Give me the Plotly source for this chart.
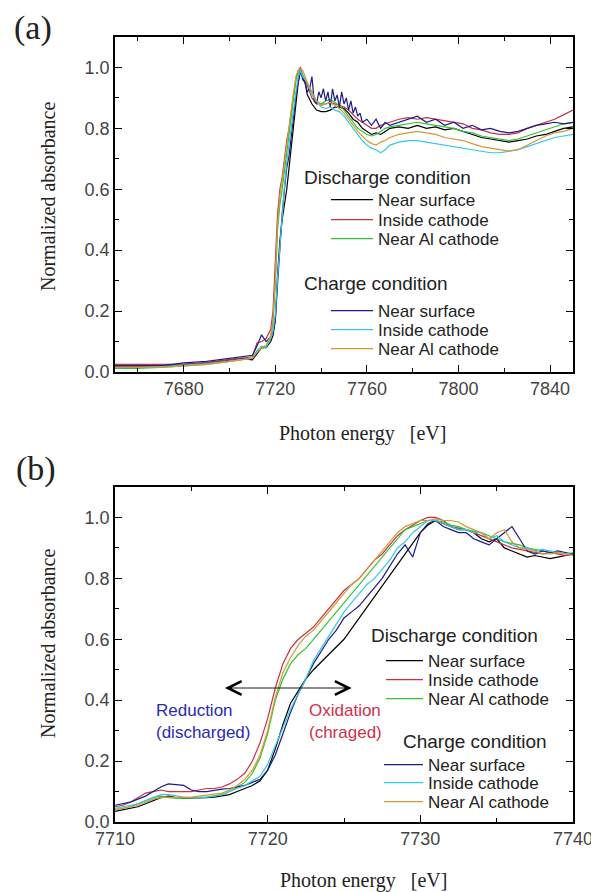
import plotly.graph_objects as go

# ---- panel (a): wide energy range ----
EA = [7650, 7660, 7670, 7680, 7690, 7700, 7705, 7710, 7712, 7714, 7716, 7718,
      7719, 7720, 7721, 7722, 7723, 7724, 7725, 7726, 7727, 7728, 7729, 7730,
      7731, 7732, 7733, 7734, 7736, 7738, 7740, 7742, 7744, 7746, 7748, 7750,
      7752, 7754, 7756, 7758, 7760, 7762, 7764, 7766, 7768, 7770, 7774, 7778,
      7782, 7786, 7790, 7794, 7798, 7802, 7806, 7810, 7814, 7818, 7822, 7826,
      7830, 7834, 7838, 7842, 7846, 7850]
# the charged near-surface scan is noisier just above the edge, read more finely there
EA_noisy = [7650, 7660, 7670, 7680, 7690, 7700, 7705, 7710, 7712, 7714, 7716, 7718,
            7719, 7720, 7721, 7722, 7723, 7724, 7725, 7726, 7727, 7728, 7729, 7730,
            7731, 7732, 7733, 7734, 7735, 7736, 7737, 7738, 7739, 7740, 7741, 7742,
            7743, 7744, 7745, 7746, 7747, 7748, 7749, 7750, 7751, 7752, 7753, 7754,
            7755, 7756, 7757, 7758, 7760, 7762, 7764, 7766, 7768, 7770, 7774, 7778,
            7782, 7786, 7790, 7794, 7798, 7802, 7806, 7810, 7814, 7818, 7822, 7826,
            7830, 7834, 7838, 7842, 7846, 7850]

a_dis_surface = [0.020, 0.020, 0.020, 0.025, 0.030, 0.040, 0.045, 0.040, 0.060, 0.080, 0.080, 0.100,
                 0.120, 0.170, 0.320, 0.430, 0.500, 0.550, 0.600, 0.670, 0.740, 0.810, 0.880, 0.950,
                 0.990, 0.970, 0.950, 0.910, 0.880, 0.860, 0.855, 0.855, 0.860, 0.870, 0.870, 0.865,
                 0.850, 0.830, 0.820, 0.800, 0.790, 0.780, 0.785, 0.780, 0.790, 0.800, 0.805, 0.800,
                 0.810, 0.800, 0.805, 0.795, 0.800, 0.790, 0.780, 0.770, 0.765, 0.760, 0.755, 0.760,
                 0.765, 0.775, 0.780, 0.790, 0.800, 0.805]
a_dis_inside = [0.025, 0.025, 0.025, 0.025, 0.030, 0.040, 0.045, 0.050, 0.095, 0.100, 0.110, 0.140,
                0.200, 0.340, 0.520, 0.600, 0.640, 0.700, 0.760, 0.800, 0.860, 0.910, 0.960, 0.990,
                1.000, 0.970, 0.960, 0.940, 0.900, 0.880, 0.880, 0.880, 0.885, 0.880, 0.875, 0.870,
                0.860, 0.845, 0.830, 0.820, 0.810, 0.800, 0.800, 0.810, 0.815, 0.820, 0.830, 0.835,
                0.830, 0.835, 0.830, 0.825, 0.820, 0.815, 0.800, 0.795, 0.785, 0.780, 0.780, 0.785,
                0.800, 0.810, 0.820, 0.830, 0.845, 0.860]
a_dis_al = [0.012, 0.012, 0.015, 0.020, 0.025, 0.035, 0.040, 0.045, 0.070, 0.078, 0.082, 0.115,
            0.160, 0.290, 0.470, 0.550, 0.600, 0.660, 0.720, 0.780, 0.840, 0.900, 0.960, 0.980,
            0.990, 0.975, 0.960, 0.950, 0.915, 0.890, 0.880, 0.890, 0.895, 0.885, 0.875, 0.860,
            0.840, 0.820, 0.800, 0.790, 0.780, 0.775, 0.780, 0.790, 0.800, 0.805, 0.810, 0.815,
            0.820, 0.815, 0.810, 0.805, 0.800, 0.790, 0.785, 0.775, 0.770, 0.765, 0.760, 0.765,
            0.775, 0.785, 0.795, 0.805, 0.815, 0.820]
a_chg_surface = [0.020, 0.020, 0.020, 0.030, 0.035, 0.045, 0.050, 0.055, 0.085, 0.122, 0.100, 0.115,
                 0.130, 0.170, 0.290, 0.420, 0.520, 0.600, 0.670, 0.710, 0.770, 0.840, 0.910, 0.950,
                 0.990, 0.960, 0.950, 0.920, 0.930, 0.970, 0.890, 0.880, 0.920, 0.900, 0.930, 0.890,
                 0.920, 0.870, 0.930, 0.890, 0.910, 0.870, 0.920, 0.880, 0.900, 0.860, 0.890, 0.850,
                 0.870, 0.840, 0.850, 0.820, 0.830, 0.810, 0.830, 0.800, 0.820, 0.810, 0.820, 0.830,
                 0.840, 0.820, 0.830, 0.810, 0.820, 0.800, 0.810, 0.795, 0.800, 0.790, 0.785, 0.790,
                 0.800, 0.810, 0.815, 0.820, 0.815, 0.820]
a_chg_inside = [0.015, 0.015, 0.018, 0.022, 0.027, 0.035, 0.040, 0.045, 0.070, 0.085, 0.082, 0.110,
                0.135, 0.190, 0.310, 0.420, 0.530, 0.610, 0.690, 0.750, 0.800, 0.860, 0.920, 0.970,
                0.990, 0.970, 0.960, 0.950, 0.910, 0.890, 0.870, 0.865, 0.870, 0.860, 0.855, 0.840,
                0.820, 0.800, 0.780, 0.760, 0.745, 0.735, 0.730, 0.720, 0.730, 0.745, 0.755, 0.760,
                0.760, 0.755, 0.750, 0.745, 0.740, 0.735, 0.730, 0.725, 0.720, 0.720, 0.725, 0.730,
                0.740, 0.750, 0.760, 0.770, 0.775, 0.780]
a_chg_al = [0.015, 0.015, 0.015, 0.020, 0.025, 0.035, 0.040, 0.045, 0.065, 0.080, 0.088, 0.120,
            0.170, 0.300, 0.490, 0.580, 0.630, 0.690, 0.750, 0.800, 0.860, 0.920, 0.970, 0.990,
            0.995, 0.990, 0.970, 0.950, 0.920, 0.890, 0.875, 0.880, 0.885, 0.875, 0.865, 0.850,
            0.830, 0.810, 0.790, 0.775, 0.760, 0.750, 0.745, 0.755, 0.760, 0.770, 0.780, 0.785,
            0.790, 0.785, 0.780, 0.770, 0.765, 0.760, 0.750, 0.740, 0.735, 0.730, 0.725, 0.730,
            0.745, 0.760, 0.775, 0.785, 0.790, 0.800]

# ---- panel (b): edge region zoom ----
EB = [7710, 7710.5, 7711, 7711.5, 7712, 7712.5, 7713, 7713.5, 7714, 7714.5,
      7715, 7715.5, 7716, 7716.5, 7717, 7717.5, 7718, 7718.5, 7719, 7719.5,
      7720, 7720.5, 7721, 7721.5, 7722, 7722.5, 7723, 7723.5, 7724, 7724.5,
      7725, 7725.5, 7726, 7726.5, 7727, 7727.5, 7728, 7728.5, 7729, 7729.5,
      7730, 7730.5, 7731, 7731.5, 7732, 7732.5, 7733, 7733.5, 7734, 7734.5,
      7735, 7735.5, 7736, 7736.5, 7737, 7737.5, 7738, 7738.5, 7739, 7739.5,
      7740]

b_dis_surface = [0.035, 0.040, 0.045, 0.050, 0.060, 0.070, 0.080, 0.085, 0.080, 0.078,
                 0.078, 0.080, 0.080, 0.082, 0.085, 0.090, 0.100, 0.110, 0.120, 0.135,
                 0.170, 0.240, 0.320, 0.390, 0.430, 0.470, 0.500, 0.525, 0.550, 0.575,
                 0.600, 0.635, 0.670, 0.705, 0.740, 0.775, 0.810, 0.845, 0.880, 0.915,
                 0.950, 0.975, 0.990, 0.980, 0.970, 0.960, 0.960, 0.950, 0.930, 0.920,
                 0.930, 0.900, 0.890, 0.880, 0.870, 0.875, 0.870, 0.865, 0.870, 0.875,
                 0.880]
b_dis_inside = [0.050, 0.055, 0.065, 0.080, 0.095, 0.100, 0.105, 0.100, 0.100, 0.100,
                0.100, 0.105, 0.110, 0.110, 0.115, 0.125, 0.140, 0.160, 0.200, 0.260,
                0.340, 0.440, 0.520, 0.570, 0.600, 0.620, 0.640, 0.670, 0.700, 0.730,
                0.760, 0.780, 0.800, 0.830, 0.860, 0.880, 0.910, 0.940, 0.960, 0.975,
                0.990, 1.000, 1.000, 0.990, 0.970, 0.965, 0.960, 0.950, 0.940, 0.930,
                0.920, 0.910, 0.900, 0.895, 0.890, 0.885, 0.880, 0.885, 0.880, 0.875,
                0.880]
b_dis_al = [0.040, 0.045, 0.050, 0.060, 0.070, 0.080, 0.085, 0.080, 0.078, 0.078,
            0.080, 0.080, 0.082, 0.085, 0.090, 0.100, 0.115, 0.130, 0.160, 0.210,
            0.290, 0.400, 0.470, 0.520, 0.550, 0.570, 0.600, 0.630, 0.660, 0.690,
            0.720, 0.750, 0.780, 0.810, 0.840, 0.870, 0.900, 0.930, 0.960, 0.970,
            0.980, 0.990, 0.990, 0.985, 0.975, 0.970, 0.960, 0.955, 0.950, 0.940,
            0.930, 0.920, 0.915, 0.910, 0.900, 0.895, 0.890, 0.885, 0.885, 0.880,
            0.880]
b_chg_surface = [0.055, 0.060, 0.065, 0.075, 0.085, 0.100, 0.115, 0.125, 0.122, 0.120,
                 0.105, 0.100, 0.100, 0.105, 0.108, 0.110, 0.115, 0.120, 0.130, 0.140,
                 0.170, 0.220, 0.290, 0.360, 0.420, 0.470, 0.520, 0.560, 0.600, 0.630,
                 0.670, 0.690, 0.710, 0.740, 0.770, 0.800, 0.840, 0.880, 0.910, 0.870,
                 0.950, 0.980, 0.990, 0.970, 0.960, 0.950, 0.950, 0.930, 0.920, 0.910,
                 0.930, 0.950, 0.970, 0.930, 0.890, 0.880, 0.890, 0.885, 0.890, 0.885,
                 0.880]
b_chg_inside = [0.045, 0.050, 0.055, 0.060, 0.070, 0.080, 0.090, 0.090, 0.085, 0.082,
                0.080, 0.080, 0.082, 0.085, 0.090, 0.100, 0.110, 0.120, 0.135, 0.150,
                0.190, 0.250, 0.310, 0.370, 0.420, 0.470, 0.530, 0.570, 0.610, 0.650,
                0.690, 0.720, 0.750, 0.780, 0.800, 0.830, 0.860, 0.900, 0.920, 0.950,
                0.970, 0.990, 0.990, 0.980, 0.970, 0.960, 0.960, 0.950, 0.950, 0.930,
                0.940, 0.920, 0.910, 0.900, 0.900, 0.890, 0.895, 0.890, 0.885, 0.880,
                0.885]
b_chg_al = [0.040, 0.045, 0.050, 0.055, 0.065, 0.075, 0.080, 0.082, 0.080, 0.080,
            0.082, 0.085, 0.088, 0.090, 0.095, 0.105, 0.120, 0.140, 0.170, 0.220,
            0.300, 0.410, 0.490, 0.540, 0.580, 0.610, 0.630, 0.660, 0.690, 0.720,
            0.750, 0.780, 0.800, 0.830, 0.860, 0.890, 0.920, 0.950, 0.970, 0.980,
            0.990, 0.990, 0.995, 0.990, 0.990, 0.985, 0.970, 0.960, 0.950, 0.930,
            0.950, 0.960, 0.920, 0.900, 0.895, 0.890, 0.880, 0.880, 0.885, 0.880,
            0.875]

labels = ["Near surface", "Inside cathode", "Near Al cathode"]
dis_colors = ["#000000", "#c8304a", "#33c233"]
chg_colors = ["#1c1c86", "#35c8e6", "#d49a32"]

# arrow in (b): reduction <-> oxidation
arrow_y = 0.44
arrow_left = 7717.1
arrow_right = 7725.5

# the page body has an 8px margin, so the figure is made smaller by that
# and every position below is given in window pixels
OFF = 8
W, H = 599 - OFF, 892 - OFF
SANS = "Liberation Sans, Arial, sans-serif"
SERIF = "Liberation Serif, Times New Roman, serif"


def px_x(p):
    return (p - OFF) / W


def px_y(p):
    return 1 - (p - OFF) / H


# legend layout (window px): group title position, entry x, item width, entry centres
legend_groups = [
    ("Discharge condition", 302, 178, 326, 42, [200, 220, 239]),
    ("Charge condition", 302, 283, 326, 42, [311, 330, 349]),
    ("Discharge condition", 369, 635, 381, 37, [661, 680, 699]),
    ("Charge condition", 401, 741, 379, 39, [765, 783, 802]),
]

fig = go.Figure()

panels = [
    ("x", "y", [(EA, a_dis_surface), (EA, a_dis_inside), (EA, a_dis_al)],
     [(EA_noisy, a_chg_surface), (EA, a_chg_inside), (EA, a_chg_al)]),
    ("x2", "y2", [(EB, b_dis_surface), (EB, b_dis_inside), (EB, b_dis_al)],
     [(EB, b_chg_surface), (EB, b_chg_inside), (EB, b_chg_al)]),
]
leg_n = 0
for xa, ya, dis, chg in panels:
    for series, colors in ((dis, dis_colors), (chg, chg_colors)):
        for name, (e, vals), col in zip(labels, series, colors):
            leg_n += 1
            fig.add_trace(go.Scatter(x=e, y=vals, mode="lines", name=name,
                                     line=dict(color=col, width=1.2),
                                     xaxis=xa, yaxis=ya,
                                     legend="legend" if leg_n == 1 else f"legend{leg_n}"))

axis_common = dict(showline=True, linecolor="black", linewidth=1.5, mirror="ticks",
                   ticks="inside", ticklen=7, tickwidth=1.2, tickcolor="black",
                   showgrid=False, zeroline=False, automargin=False,
                   tickfont=dict(family=SANS, size=18, color="#444"))
minor_common = dict(ticklen=4, tickcolor="black", ticks="inside", showgrid=False)

fig.update_layout(
    width=W, height=H, autosize=False, showlegend=True,
    margin=dict(l=0, r=0, t=0, b=0, autoexpand=False),
    paper_bgcolor="white", plot_bgcolor="white",
    xaxis=dict(domain=[px_x(115), px_x(573)], range=[7650, 7850], anchor="y",
               tick0=7680, dtick=40, minor=dict(dtick=20, **minor_common),
               **axis_common),
    yaxis=dict(domain=[px_y(372), px_y(37)], range=[0, 1.1], anchor="x",
               dtick=0.2, tickformat=".1f", minor=dict(dtick=0.1, **minor_common),
               **axis_common),
    xaxis2=dict(domain=[px_x(115), px_x(573)], range=[7710, 7740], anchor="y2",
                tick0=7710, dtick=10, minor=dict(dtick=5, **minor_common),
                **axis_common),
    yaxis2=dict(domain=[px_y(822), px_y(487)], range=[0, 1.1], anchor="x2",
                dtick=0.2, tickformat=".1f", minor=dict(dtick=0.1, **minor_common),
                **axis_common),
)

# one small legend per entry so the rows sit as tight as in the original
legends = {}
annotations = []
n = 0
for title, tx, ty, ex, iw, ys in legend_groups:
    annotations.append(dict(text=title, x=px_x(tx), y=px_y(ty), xref="paper", yref="paper",
                            xanchor="left", yanchor="middle", showarrow=False,
                            font=dict(family=SANS, size=19, color="#222")))
    for yy in ys:
        n += 1
        key = "legend" if n == 1 else f"legend{n}"
        legends[key] = dict(x=px_x(ex), y=px_y(yy), xanchor="left", yanchor="middle",
                            bgcolor="rgba(0,0,0,0)", itemwidth=iw, visible=True,
                            font=dict(family=SANS, size=17, color="#222"))
fig.update_layout(**legends)

text_annots = [
    dict(text="(a)", x=px_x(33), y=px_y(28), font=dict(family=SERIF, size=34, color="#222")),
    dict(text="(b)", x=px_x(36), y=px_y(469), font=dict(family=SERIF, size=34, color="#222")),
    dict(text="Normalized absorbance", x=px_x(48), y=px_y(197), textangle=-90,
         font=dict(family=SERIF, size=20, color="#222")),
    dict(text="Normalized absorbance", x=px_x(48), y=px_y(644), textangle=-90,
         font=dict(family=SERIF, size=20, color="#222")),
    dict(text="Photon energy\u00a0\u00a0 [eV]", x=px_x(362), y=px_y(433),
         font=dict(family=SERIF, size=20, color="#222")),
    dict(text="Photon energy\u00a0\u00a0 [eV]", x=px_x(363), y=px_y(880),
         font=dict(family=SERIF, size=20, color="#222")),
]
for a in text_annots:
    a.update(xref="paper", yref="paper", showarrow=False, xanchor="center", yanchor="middle")
annotations += text_annots

annotations += [
    dict(x=arrow_right, y=arrow_y, ax=arrow_left, ay=arrow_y, xref="x2", yref="y2",
         axref="x2", ayref="y2", text="", showarrow=True, arrowside="end+start",
         arrowhead=5, arrowsize=3, arrowwidth=0.9, arrowcolor="black"),
    dict(text="Reduction<br>(discharged)", x=7715.8, y=0.33, xref="x2", yref="y2",
         showarrow=False, align="left", font=dict(family=SANS, size=17, color="#2a2ab4")),
    dict(text="Oxidation<br>(chraged)", x=7725.1, y=0.33, xref="x2", yref="y2",
         showarrow=False, align="left", font=dict(family=SANS, size=17, color="#d0304a")),
]
fig.update_layout(annotations=annotations)

fig.write_html("out.html")
